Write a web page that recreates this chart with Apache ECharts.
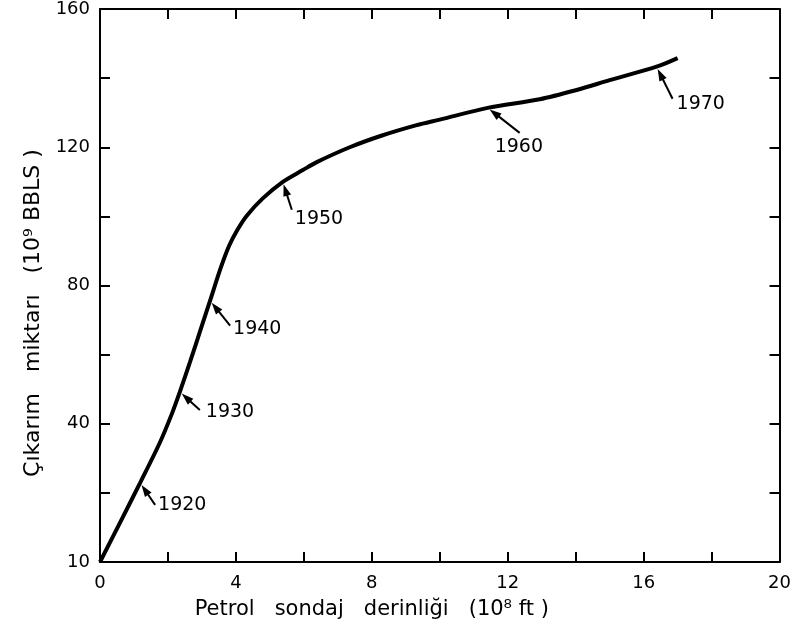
<!DOCTYPE html>
<html>
<head>
<meta charset="utf-8">
<script src="https://cdn.jsdelivr.net/npm/echarts@6/dist/echarts.min.js"></script>
<style>html,body{margin:0;padding:0;background:#fff}#chart{width:794px;height:630px}</style>
</head>
<body>
<div id="chart"></div>
<script>
// ---- data ----
const depth = [0, 0.59, 1.18, 1.76, 2.12, 2.35, 2.65, 2.97, 3.24, 3.55, 3.8, 4.05, 4.32, 4.79, 5.38, 5.97, 6.38, 7.35, 8.3, 9.32, 10.0, 11.41, 12.94, 14.0, 15.0, 16.38, 17.0];
const production = [0, 11.4, 22.9, 34.5, 43.0, 49.2, 57.9, 67.5, 75.6, 85.0, 91.5, 96.2, 100.2, 105.2, 110.0, 113.4, 115.7, 120.0, 123.4, 126.4, 128.0, 131.4, 133.9, 136.5, 139.4, 143.3, 145.8];
const years = ['1920', '1930', '1940', '1950', '1960', '1970'];
const yearDepth = [1.18, 2.35, 3.24, 5.38, 11.41, 16.38];
const yearProd = [22.9, 49.2, 75.6, 110.0, 131.4, 143.3];
const xTickLabels = [0, 4, 8, 12, 16, 20];
const yTickLabels = {0: '10', 40: '40', 80: '80', 120: '120', 160: '160'};

// ---- layout of the year annotations (pixel offsets from the curve point) ----
const arrowLayout = [
  {tail: [15, 22], label: [18, 22]},
  {tail: [20, 18], label: [26, 20]},
  {tail: [20, 25], label: [23, 28]},
  {tail: [9, 28], label: [12, 37]},
  {tail: [32, 25], label: [7, 39]},
  {tail: [16, 32], label: [20, 37]}
];

const FONT = 'DejaVu Sans';
const chart = echarts.init(document.getElementById('chart'), null, {renderer: 'canvas'});

const axisLine = {show: true, onZero: false, lineStyle: {color: '#000', width: 2}};
const tick = {show: true, inside: true, length: 10, lineStyle: {color: '#000', width: 2}};

chart.setOption({
  animation: false,
  backgroundColor: '#fff',
  grid: {left: 100, right: 14, top: 9, bottom: 68},
  xAxis: [
    {
      type: 'value', min: 0, max: 20, interval: 2,
      axisLine: axisLine, axisTick: tick, splitLine: {show: false},
      axisLabel: {
        color: '#000', fontSize: 18, fontFamily: FONT, margin: 12,
        formatter: v => xTickLabels.indexOf(v) >= 0 ? String(v) : ''
      },
      name: 'Petrol   sondaj   derinliği   (10⁸ ft )',
      nameLocation: 'middle', nameGap: 37,
      nameTextStyle: {color: '#000', fontSize: 21, fontFamily: FONT, padding: [0, 136, 0, 0]}
    },
    {
      type: 'value', position: 'top', min: 0, max: 20, interval: 2,
      axisLine: axisLine, axisTick: tick, axisLabel: {show: false}, splitLine: {show: false}
    }
  ],
  yAxis: [
    {
      type: 'value', min: 0, max: 160, interval: 20,
      axisLine: axisLine, axisTick: tick, splitLine: {show: false},
      axisLabel: {
        color: '#000', fontSize: 18, fontFamily: FONT, margin: 10,
        formatter: v => (yTickLabels[v] !== undefined ? yTickLabels[v] : '')
      },
      name: 'Çıkarım   miktarı   (10⁹ BBLS )',
      nameLocation: 'middle', nameGap: 52,
      nameTextStyle: {color: '#000', fontSize: 22, fontFamily: FONT, padding: [0, 55, 0, 0]}
    },
    {
      type: 'value', position: 'right', min: 0, max: 160, interval: 20,
      axisLine: axisLine, axisTick: tick, axisLabel: {show: false}, splitLine: {show: false}
    }
  ],
  series: [
    {
      type: 'line',
      data: depth.map((x, i) => [x, production[i]]),
      showSymbol: false,
      smooth: 0.3,
      lineStyle: {color: '#000', width: 4},
      z: 3
    },
    {
      type: 'custom',
      coordinateSystem: 'cartesian2d',
      data: yearDepth.map((x, i) => [x, yearProd[i]]),
      encode: {x: 0, y: 1},
      clip: false,
      z: 4,
      renderItem: function (params, api) {
        const i = params.dataIndex;
        const p = api.coord([api.value(0), api.value(1)]);
        const o = arrowLayout[i];
        const tx = p[0] + o.tail[0], ty = p[1] + o.tail[1];
        const len = Math.hypot(o.tail[0], o.tail[1]);
        const ux = o.tail[0] / len, uy = o.tail[1] / len;
        const gap = 2.5;
        const hx = p[0] + ux * gap, hy = p[1] + uy * gap;
        const headLen = 12, headW = 4;
        const bx = hx + ux * headLen, by = hy + uy * headLen;
        const nx = -uy, ny = ux;
        return {
          type: 'group',
          children: [
            {type: 'line', shape: {x1: bx - ux * 1, y1: by - uy * 1, x2: tx, y2: ty},
             style: {stroke: '#000', lineWidth: 2}},
            {type: 'polygon',
             shape: {points: [[hx, hy], [bx + nx * headW, by + ny * headW], [bx - nx * headW, by - ny * headW]]},
             style: {fill: '#000'}},
            {type: 'text', x: p[0] + o.label[0], y: p[1] + o.label[1],
             style: {text: years[i], fill: '#000', fontSize: 19, fontFamily: FONT,
                     align: 'left', verticalAlign: 'middle'}}
          ]
        };
      }
    }
  ]
});
</script>
</body>
</html>
